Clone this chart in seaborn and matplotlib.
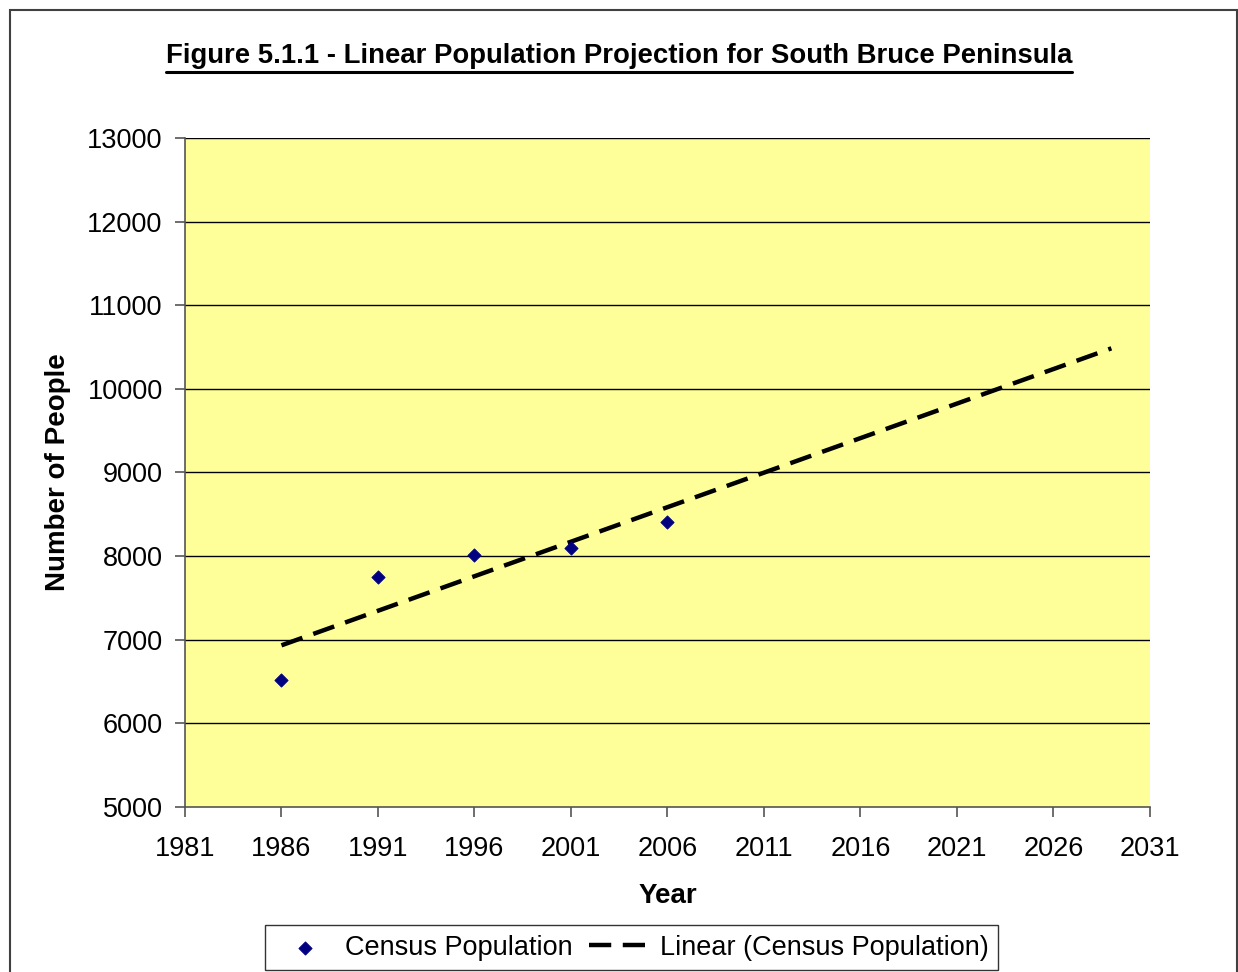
import numpy as np
import pandas as pd
import seaborn as sns
import matplotlib.pyplot as plt
from matplotlib.patches import Rectangle

# census data
years = [1986, 1991, 1996, 2001, 2006]
population = [6520, 7750, 8015, 8100, 8410]
trend_end_year = 2029

x_ticks = list(range(1981, 2032, 5))
y_ticks = list(range(5000, 13001, 1000))

sns.set_theme(style='white')
plt.rcParams['font.family'] = ['Liberation Sans', 'DejaVu Sans']
plt.rcParams['text.color'] = 'black'
plt.rcParams['axes.labelcolor'] = 'black'
plt.rcParams['xtick.color'] = 'black'
plt.rcParams['ytick.color'] = 'black'

df = pd.DataFrame({'Year': years, 'Population': population})

# Excel-style linear trendline, forecast forward
slope, intercept = np.polyfit(df['Year'], df['Population'], 1)
trend_x = np.array([years[0], trend_end_year])
trend = pd.DataFrame({'Year': trend_x, 'Population': slope * trend_x + intercept})

fig = plt.figure(figsize=(12.38, 9.72), dpi=100)
ax = fig.add_axes([0.1494, 0.1698, 0.7795, 0.6882])
ax.set_facecolor('#FFFF99')

for y in y_ticks[1:]:
    ax.axhline(y, color='black', lw=1.0, zorder=1)

sns.scatterplot(data=df, x='Year', y='Population', ax=ax, marker='D', s=65,
                color='#000080', edgecolor='#000080', zorder=3,
                label='Census Population')
sns.lineplot(data=trend, x='Year', y='Population', ax=ax, color='black', lw=3.2,
             zorder=2, label='Linear (Census Population)')
ax.lines[-1].set_dashes((5, 2.6))

ax.set_xlim(1981, 2031)
ax.set_ylim(5000, 13000)
ax.set_xticks(x_ticks)
ax.set_yticks(y_ticks)
ax.tick_params(axis='both', labelsize=19.5, length=7, width=1.2, color='#555555',
               direction='out', bottom=True, left=True)
ax.tick_params(axis='y', pad=9)
ax.tick_params(axis='x', pad=14)
for s in ['top', 'right']:
    ax.spines[s].set_visible(False)
for s in ['left', 'bottom']:
    ax.spines[s].set_color('#555555')
    ax.spines[s].set_linewidth(1.2)

ax.set_xlabel('Year', fontsize=20, fontweight='bold', labelpad=15)
ax.set_ylabel('Number of People', fontsize=20, fontweight='bold', labelpad=12)

title = fig.text(0.5, 0.942, 'Figure 5.1.1 - Linear Population Projection for South Bruce Peninsula',
                 ha='center', va='center', fontsize=19.8, fontweight='bold')

handles, labels = ax.get_legend_handles_labels()
ax.get_legend().remove()
handles[0].set_sizes([45])
leg = fig.legend(handles, labels, loc='center', bbox_to_anchor=(0.510, 0.025), ncol=2,
                 fontsize=19.5, frameon=True, fancybox=False, edgecolor='black',
                 handlelength=2.3, handletextpad=0.3, columnspacing=0.63,
                 borderpad=0.35)
leg.get_frame().set_linewidth(1.0)

# underline the title to match its width
fig.canvas.draw()
bb = title.get_window_extent().transformed(fig.transFigure.inverted())
fig.add_artist(plt.Line2D([bb.x0, bb.x1], [bb.y0 - 0.003, bb.y0 - 0.003],
                          color='black', lw=2.2))

fig.add_artist(Rectangle((10 / 1238, -0.01), 1 - 11.5 / 1238, 1 - 10 / 972 + 0.01,
                         transform=fig.transFigure, fill=False,
                         edgecolor='#404040', lw=1.5))

fig.savefig('out.png', dpi=100)
